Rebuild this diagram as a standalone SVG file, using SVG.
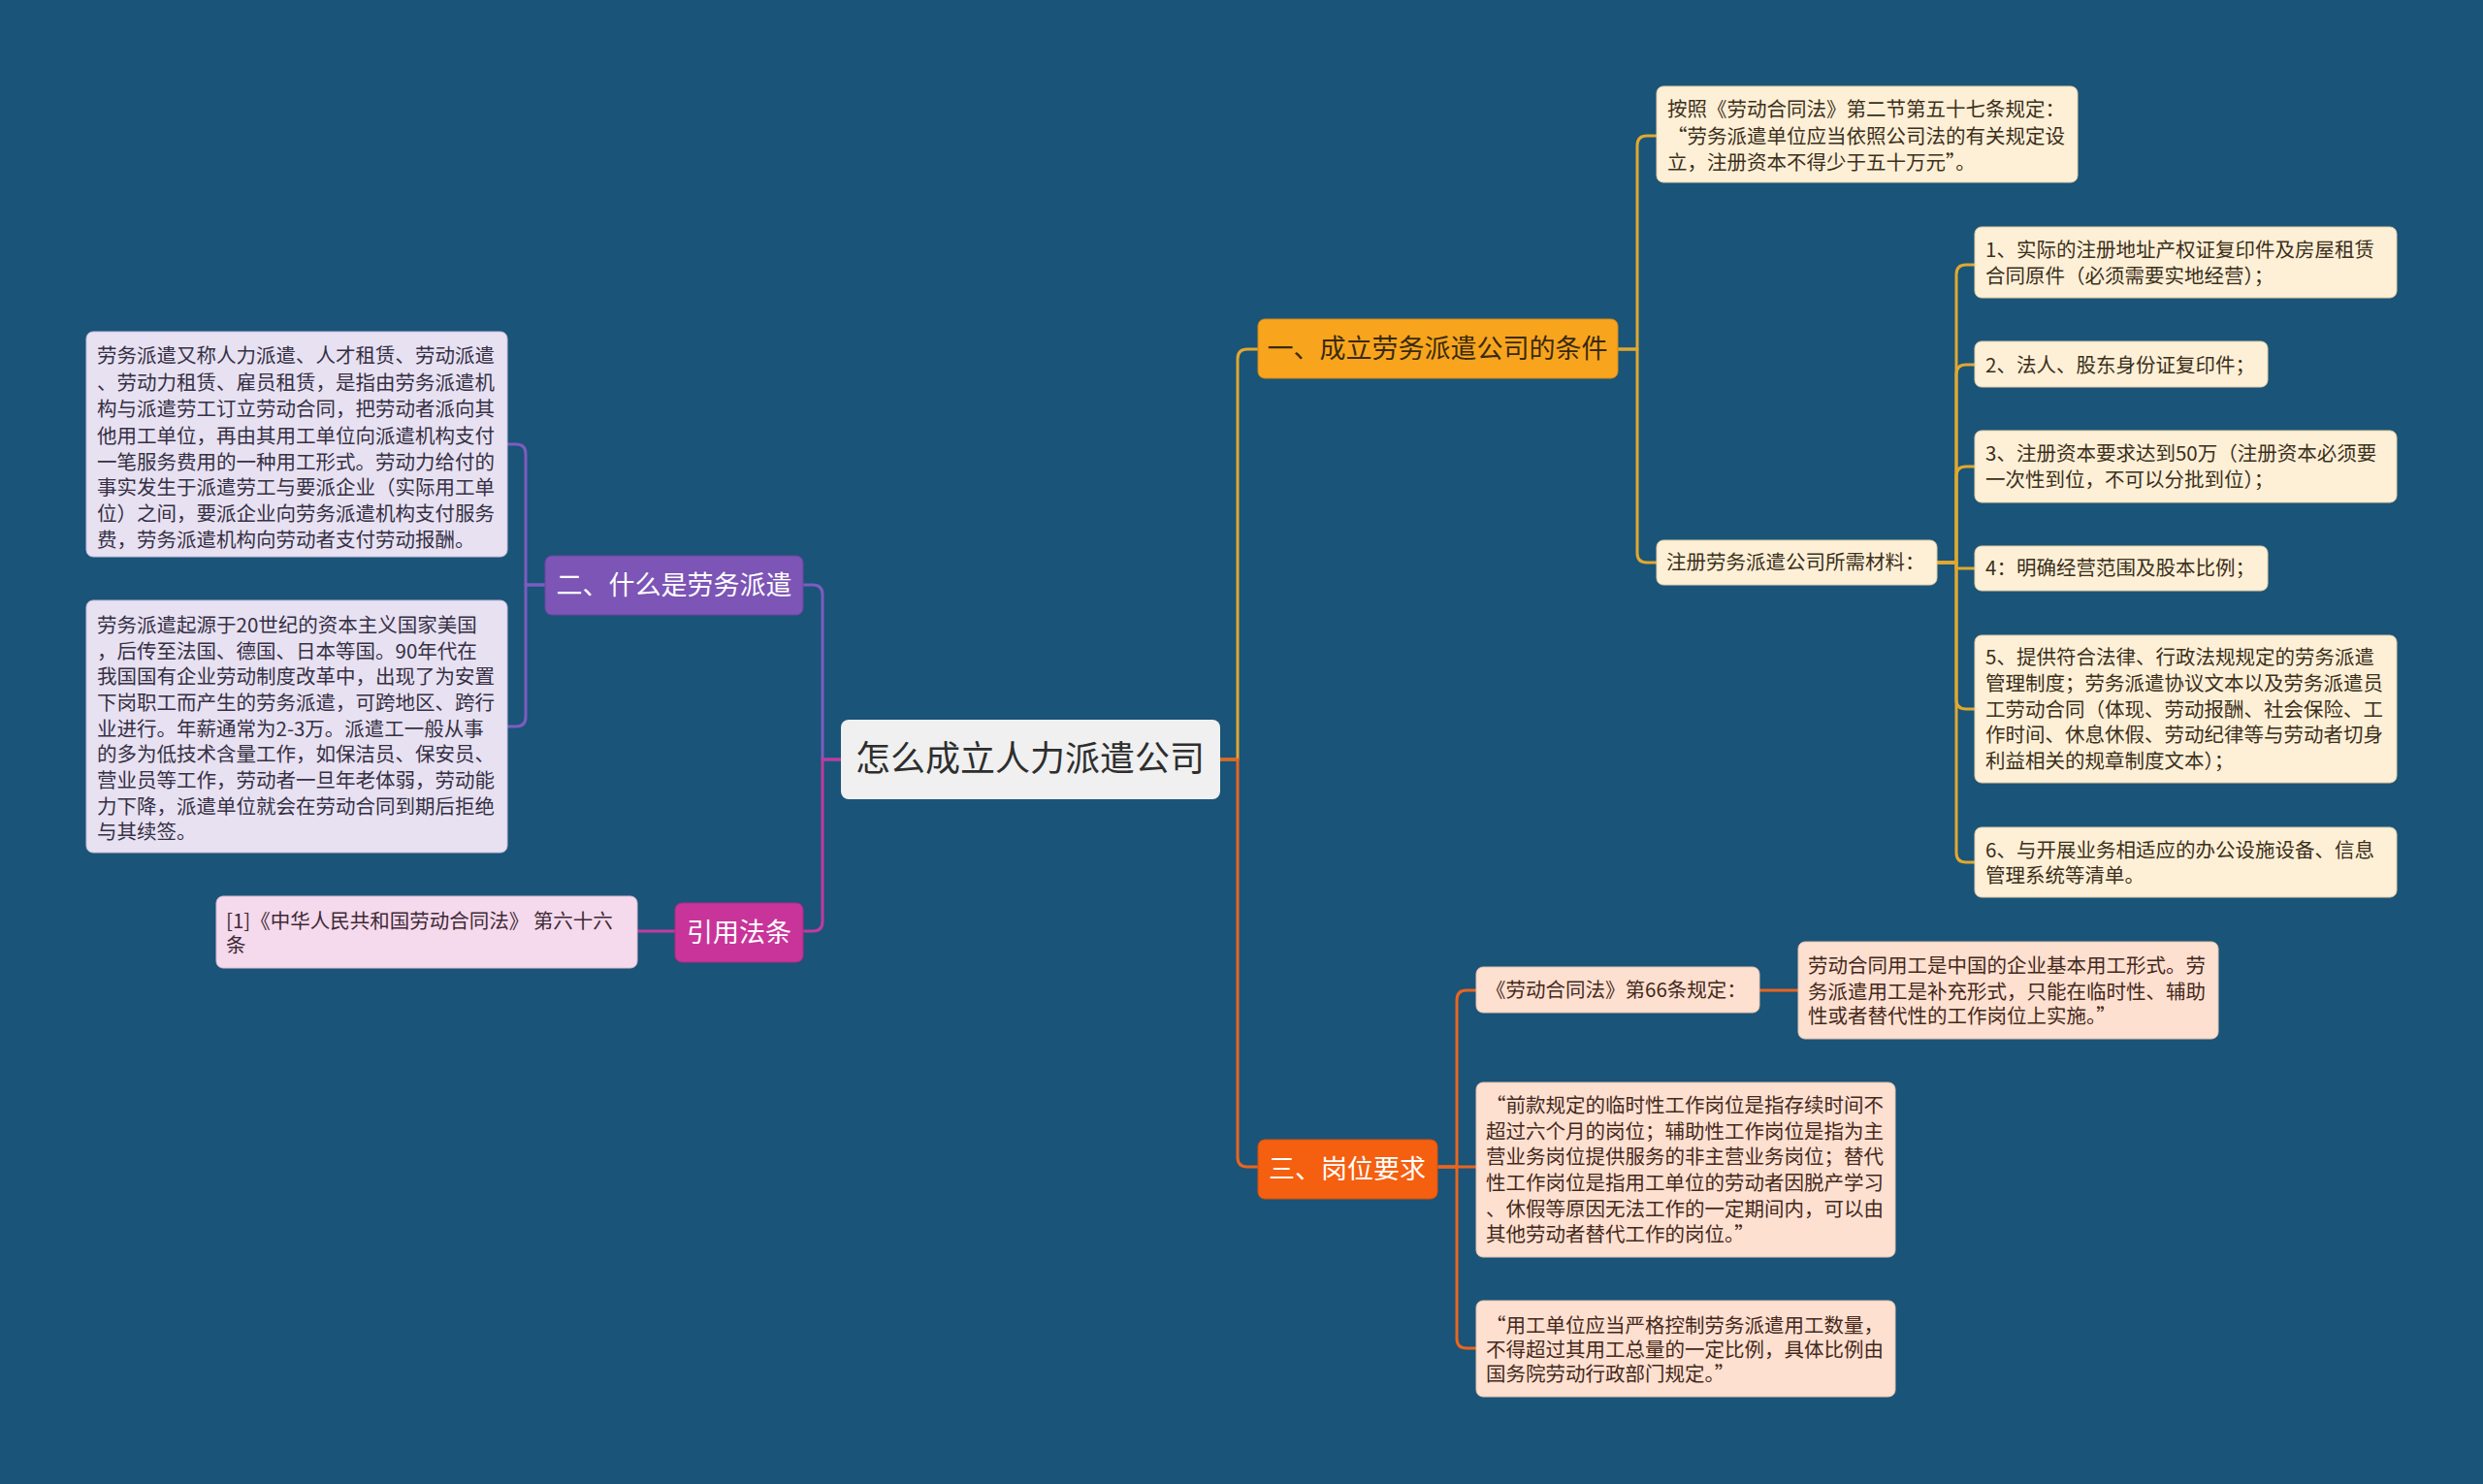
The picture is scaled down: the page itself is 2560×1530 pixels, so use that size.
<svg xmlns="http://www.w3.org/2000/svg" width="2560" height="1530" viewBox="0 0 2560 1530">
<style>
text{font-family:"Noto Sans CJK SC","Noto Sans",sans-serif;}
.c{fill:none;stroke-width:3;stroke-linejoin:round;}
.gold{stroke:#e0a830;}
.org{stroke:#e8651e;}
.pur{stroke:#7d5cc0;}
.mag{stroke:#c23a9e;}
.sm{font-size:20.5px;}
.br{font-size:27px;}
.cream{fill:#fdf0d6;stroke:#e3cfa8;stroke-width:1;}
.lav{fill:#e7e1f2;stroke:#c9bfdc;stroke-width:1;}
.pink{fill:#f5d9ec;stroke:#dcbcd2;stroke-width:1;}
.peach{fill:#fde0d0;stroke:#e5c3b0;stroke-width:1;}
.tc{fill:#3c2f1c;}
.tl{fill:#363044;}
.tp{fill:#3e2a36;}
.te{fill:#45291c;}
</style>
<rect width="2560" height="1530" fill="#1a5478"/>
<g id="connectors">
<path class="c gold" d="M1258,783 H1276 V370 Q1276,360 1286,360 H1297"/>
<path class="c gold" d="M1668,360 H1688 V150 Q1688,140 1698,140 H1708"/>
<path class="c gold" d="M1668,360 H1688 V570 Q1688,580 1698,580 H1708"/>
<path class="c gold" d="M1997,580 H2017 V283 Q2017,273 2027,273 H2036"/>
<path class="c gold" d="M1997,580 H2017 V386 Q2017,376 2027,376 H2036"/>
<path class="c gold" d="M1997,580 H2017 V491 Q2017,481 2027,481 H2036"/>
<path class="c gold" d="M1997,580 H2017 V586 H2036"/>
<path class="c gold" d="M1997,580 H2017 V721 Q2017,731 2027,731 H2036"/>
<path class="c gold" d="M1997,580 H2017 V879 Q2017,889 2027,889 H2036"/>
<path class="c org" d="M1258,783 H1276 V1193 Q1276,1203 1286,1203 H1297"/>
<path class="c org" d="M1482,1203 H1502 V1031 Q1502,1021 1512,1021 H1522"/>
<path class="c org" d="M1482,1203 H1522"/>
<path class="c org" d="M1482,1203 H1502 V1380 Q1502,1390 1512,1390 H1522"/>
<path class="c org" d="M1814,1021 H1854"/>
<path class="c pur" d="M867,783 H848 V613 Q848,603 838,603 H828"/>
<path class="c pur" d="M562,603 H542 V468 Q542,458 532,458 H523"/>
<path class="c pur" d="M562,603 H542 V739 Q542,749 532,749 H523"/>
<path class="c mag" d="M867,783 H848 V950 Q848,960 838,960 H828"/>
<path class="c mag" d="M696,960 H657"/>
</g>
<g id="root">
<rect x="867" y="742" width="391" height="82" rx="8" fill="#f0f0f0"/>
<text x="1062" y="795" font-size="36" fill="#2e2e2e" text-anchor="middle">怎么成立人力派遣公司</text>
</g>
<g id="branch1">
<rect x="1297" y="329" width="371" height="61" rx="7" fill="#f8a51d" stroke="#d08a18" stroke-width="1"/>
<text x="1482" y="369" class="br" fill="#3a2a10" text-anchor="middle">一、成立劳务派遣公司的条件</text>
</g>
<g id="n-law57">
<rect x="1708" y="89" width="434" height="99" rx="7" class="cream"/>
<text class="sm tc"><tspan x="1719" y="120">按照《劳动合同法》第二节第五十七条规定：</tspan><tspan x="1719" y="148">“劳务派遣单位应当依照公司法的有关规定设</tspan><tspan x="1719" y="175">立，注册资本不得少于五十万元”。</tspan></text>
</g>
<g id="n-materials">
<rect x="1708" y="557" width="289" height="46" rx="7" class="cream"/>
<text x="1718" y="587" class="sm tc">注册劳务派遣公司所需材料：</text>
</g>
<g id="m1">
<rect x="2036" y="234" width="435" height="73" rx="7" class="cream"/>
<text class="sm tc"><tspan x="2047" y="265">1、实际的注册地址产权证复印件及房屋租赁</tspan><tspan x="2047" y="292">合同原件（必须需要实地经营）；</tspan></text>
</g>
<g id="m2">
<rect x="2036" y="352" width="302" height="47" rx="7" class="cream"/>
<text x="2047" y="384" class="sm tc">2、法人、股东身份证复印件；</text>
</g>
<g id="m3">
<rect x="2036" y="444" width="435" height="74" rx="7" class="cream"/>
<text class="sm tc"><tspan x="2047" y="475">3、注册资本要求达到50万（注册资本必须要</tspan><tspan x="2047" y="502">一次性到位，不可以分批到位）；</tspan></text>
</g>
<g id="m4">
<rect x="2036" y="563" width="302" height="46" rx="7" class="cream"/>
<text x="2047" y="593" class="sm tc">4：明确经营范围及股本比例；</text>
</g>
<g id="m5">
<rect x="2036" y="655" width="435" height="152" rx="7" class="cream"/>
<text class="sm tc"><tspan x="2047" y="685">5、提供符合法律、行政法规规定的劳务派遣</tspan><tspan x="2047" y="712">管理制度；劳务派遣协议文本以及劳务派遣员</tspan><tspan x="2047" y="739">工劳动合同（体现、劳动报酬、社会保险、工</tspan><tspan x="2047" y="765">作时间、休息休假、劳动纪律等与劳动者切身</tspan><tspan x="2047" y="792">利益相关的规章制度文本）；</tspan></text>
</g>
<g id="m6">
<rect x="2036" y="853" width="435" height="72" rx="7" class="cream"/>
<text class="sm tc"><tspan x="2047" y="884">6、与开展业务相适应的办公设施设备、信息</tspan><tspan x="2047" y="910">管理系统等清单。</tspan></text>
</g>
<g id="branch2">
<rect x="562" y="573" width="266" height="61" rx="7" fill="#7c55b6" stroke="#6a47a0" stroke-width="1"/>
<text x="695" y="613" class="br" fill="#ffffff" text-anchor="middle">二、什么是劳务派遣</text>
</g>
<g id="def1">
<rect x="89" y="342" width="434" height="232" rx="7" class="lav"/>
<text class="sm tl"><tspan x="100" y="374">劳务派遣又称人力派遣、人才租赁、劳动派遣</tspan><tspan x="100" y="402">、劳动力租赁、雇员租赁，是指由劳务派遣机</tspan><tspan x="100" y="429">构与派遣劳工订立劳动合同，把劳动者派向其</tspan><tspan x="100" y="457">他用工单位，再由其用工单位向派遣机构支付</tspan><tspan x="100" y="484">一笔服务费用的一种用工形式。劳动力给付的</tspan><tspan x="100" y="510">事实发生于派遣劳工与要派企业（实际用工单</tspan><tspan x="100" y="537">位）之间，要派企业向劳务派遣机构支付服务</tspan><tspan x="100" y="564">费，劳务派遣机构向劳动者支付劳动报酬。</tspan></text>
</g>
<g id="def2">
<rect x="89" y="619" width="434" height="260" rx="7" class="lav"/>
<text class="sm tl"><tspan x="100" y="652">劳务派遣起源于20世纪的资本主义国家美国</tspan><tspan x="100" y="679">，后传至法国、德国、日本等国。90年代在</tspan><tspan x="100" y="705">我国国有企业劳动制度改革中，出现了为安置</tspan><tspan x="100" y="732">下岗职工而产生的劳务派遣，可跨地区、跨行</tspan><tspan x="100" y="759">业进行。年薪通常为2-3万。派遣工一般从事</tspan><tspan x="100" y="785">的多为低技术含量工作，如保洁员、保安员、</tspan><tspan x="100" y="812">营业员等工作，劳动者一旦年老体弱，劳动能</tspan><tspan x="100" y="839">力下降，派遣单位就会在劳动合同到期后拒绝</tspan><tspan x="100" y="865">与其续签。</tspan></text>
</g>
<g id="branch-ref">
<rect x="696" y="931" width="132" height="61" rx="7" fill="#c9349a" stroke="#ad2a84" stroke-width="1"/>
<text x="762" y="971" class="br" fill="#ffffff" text-anchor="middle">引用法条</text>
</g>
<g id="ref1">
<rect x="223" y="924" width="434" height="74" rx="7" class="pink"/>
<text class="sm tp"><tspan x="233" y="957">[1]《中华人民共和国劳动合同法》 第六十六</tspan><tspan x="233" y="982">条</tspan></text>
</g>
<g id="branch3">
<rect x="1297" y="1175" width="185" height="61" rx="7" fill="#f55f10" stroke="#d85008" stroke-width="1"/>
<text x="1389" y="1215" class="br" fill="#ffffff" text-anchor="middle">三、岗位要求</text>
</g>
<g id="p1">
<rect x="1522" y="997" width="292" height="47" rx="7" class="peach"/>
<text x="1532" y="1028" class="sm te">《劳动合同法》第66条规定：</text>
</g>
<g id="p1a">
<rect x="1854" y="971" width="433" height="100" rx="7" class="peach"/>
<text class="sm te"><tspan x="1864" y="1003">劳动合同用工是中国的企业基本用工形式。劳</tspan><tspan x="1864" y="1030">务派遣用工是补充形式，只能在临时性、辅助</tspan><tspan x="1864" y="1055">性或者替代性的工作岗位上实施。”</tspan></text>
</g>
<g id="p2">
<rect x="1522" y="1116" width="432" height="180" rx="7" class="peach"/>
<text class="sm te"><tspan x="1532" y="1147">“前款规定的临时性工作岗位是指存续时间不</tspan><tspan x="1532" y="1174">超过六个月的岗位；辅助性工作岗位是指为主</tspan><tspan x="1532" y="1200">营业务岗位提供服务的非主营业务岗位；替代</tspan><tspan x="1532" y="1227">性工作岗位是指用工单位的劳动者因脱产学习</tspan><tspan x="1532" y="1254">、休假等原因无法工作的一定期间内，可以由</tspan><tspan x="1532" y="1280">其他劳动者替代工作的岗位。”</tspan></text>
</g>
<g id="p3">
<rect x="1522" y="1341" width="432" height="99" rx="7" class="peach"/>
<text class="sm te"><tspan x="1532" y="1374">“用工单位应当严格控制劳务派遣用工数量，</tspan><tspan x="1532" y="1399">不得超过其用工总量的一定比例，具体比例由</tspan><tspan x="1532" y="1424">国务院劳动行政部门规定。”</tspan></text>
</g>
</svg>
